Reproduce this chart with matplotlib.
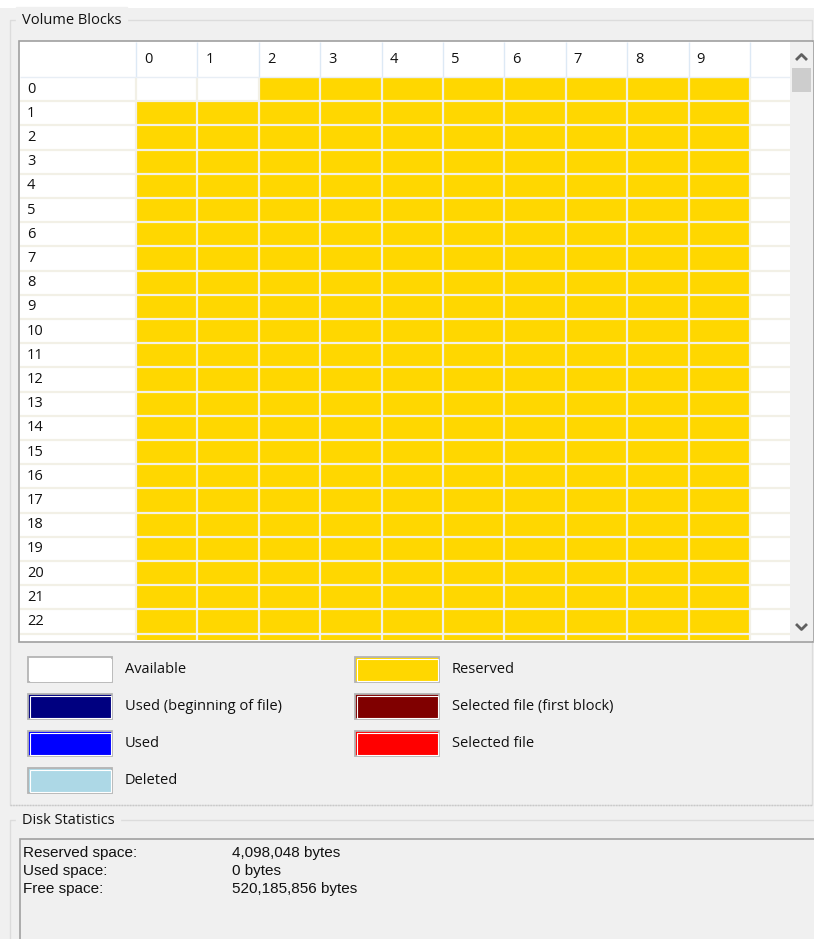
import numpy as np
import matplotlib
matplotlib.use('Agg')
import matplotlib.pyplot as plt
from matplotlib.colors import ListedColormap
from matplotlib.patches import Rectangle

# block map as it shows in the window, one string per row
# A = available, R = reserved
block_rows = [
  "AARRRRRRRR",
  "RRRRRRRRRR",
  "RRRRRRRRRR",
  "RRRRRRRRRR",
  "RRRRRRRRRR",
  "RRRRRRRRRR",
  "RRRRRRRRRR",
  "RRRRRRRRRR",
  "RRRRRRRRRR",
  "RRRRRRRRRR",
  "RRRRRRRRRR",
  "RRRRRRRRRR",
  "RRRRRRRRRR",
  "RRRRRRRRRR",
  "RRRRRRRRRR",
  "RRRRRRRRRR",
  "RRRRRRRRRR",
  "RRRRRRRRRR",
  "RRRRRRRRRR",
  "RRRRRRRRRR",
  "RRRRRRRRRR",
  "RRRRRRRRRR",
  "RRRRRRRRRR",
  "RRRRRRRRRR",
]
col_labels = ["0", "1", "2", "3", "4", "5", "6", "7", "8", "9"]
row_labels = ["0", "1", "2", "3", "4", "5", "6", "7", "8", "9", "10", "11",
              "12", "13", "14", "15", "16", "17", "18", "19", "20", "21", "22"]

status_codes  = ["A", "B", "U", "D", "R", "F", "S"]
legend_labels = ["Available", "Used (beginning of file)", "Used", "Deleted",
                 "Reserved", "Selected file (first block)", "Selected file"]
legend_colors = ["#ffffff", "#000080", "#0000ff", "#add8e6",
                 "#ffd700", "#800000", "#ff0000"]

stats_names  = ["Reserved space:", "Used space:", "Free space:"]
stats_values = ["4,098,048 bytes", "0 bytes", "520,185,856 bytes"]

W, H = 814, 939
UI_FONT = ['Open Sans', 'DejaVu Sans']
TXT_FONT = ['Liberation Sans', 'DejaVu Sans']
BG = '#f0f0f0'
TC = '#111111'
FS = 10.5

fig = plt.figure(figsize=(W/100., H/100.), dpi=100)
fig.patch.set_facecolor(BG)

###  window chrome in pixel coords  ###
ax = fig.add_axes([0, 0, 1, 1])
ax.set_xlim(0, W)
ax.set_ylim(H, 0)
ax.axis('off')

ax.add_patch(Rectangle((0, 0), W, 8, color='white', lw=0))

# Volume Blocks group box
ax.add_patch(Rectangle((10, 20), 802, 785, fill=False, ec='#dcdcdc', lw=1))
ax.plot([10, 812], [805, 805], color='#c8c8c8', lw=1, ls=(0, (1, 1)))
ax.text(22, 20, "Volume Blocks", family=UI_FONT, fontsize=FS, va='center',
        ha='left', color=TC, backgroundcolor=BG)

# grid control border + scrollbar
ax.add_patch(Rectangle((19, 41), 794, 601, fc='white', ec='#a0a0a0', lw=1.2))
ax.add_patch(Rectangle((790, 42), 23, 599, fc=BG, lw=0))
ax.add_patch(Rectangle((792, 68), 19, 24, fc='#cdcdcd', lw=0))
ax.plot([797, 801.5, 806], [59, 54.5, 59], color='#606060', lw=2)
ax.plot([797, 801.5, 806], [625, 629.5, 625], color='#606060', lw=2)

###  legend  ###
for i, (lab, col) in enumerate(zip(legend_labels, legend_colors)):
  c = i // 4
  r = i % 4
  x0 = 28 + c*327
  y0 = 657 + r*37
  ax.add_patch(Rectangle((x0, y0), 84, 25, fc=col, ec='#b4b4b4', lw=1.3))
  ax.add_patch(Rectangle((x0+1.5, y0+1.5), 81, 22, fill=False, ec='white', lw=0.8))
  ax.text(x0 + 97, y0 + 12.5, lab, family=UI_FONT, fontsize=FS,
          va='center', ha='left', color=TC)

###  Disk Statistics group  ###
ax.plot([10, 10, W], [H, 820, 820], color='#dcdcdc', lw=1)
ax.text(22, 820, "Disk Statistics", family=UI_FONT, fontsize=FS, va='center',
        ha='left', color=TC, backgroundcolor=BG)
ax.add_patch(Rectangle((20, 839), 795, 110, fc=BG, ec='#a0a0a0', lw=1.2))
for i, (n, v) in enumerate(zip(stats_names, stats_values)):
  ax.text(23, 853 + i*18, n, family=TXT_FONT, fontsize=11, va='center', color=TC)
  ax.text(232, 853 + i*18, v, family=TXT_FONT, fontsize=11, va='center', color=TC)

###  block grid  ###
rowH, colW = 24.2, 61.4
gx0, gx1, gy0, gy1 = 20, 790, 42, 640
hdr = 35/rowH
gax = fig.add_axes([gx0/W, 1 - gy1/H, (gx1-gx0)/W, (gy1-gy0)/H])
gax.set_xlim((gx0-136)/colW, (gx1-136)/colW)
gax.set_ylim((gy1-77)/rowH, -hdr)
gax.axis('off')
gax.set_facecolor('white')
gax.patch.set_visible(True)

grid = np.array([[status_codes.index(ch) for ch in row] for row in block_rows])
cmap = ListedColormap(legend_colors)
nR, nC = grid.shape
gax.imshow(grid, cmap=cmap, vmin=-0.5, vmax=len(legend_colors)-0.5,
           extent=(0, nC, nR, 0), aspect='auto', interpolation='nearest')

xl = gax.get_xlim()
gax.hlines(np.arange(1, nR), xl[0], xl[1], color='#f2f0e6', lw=1.6)
gax.vlines(np.arange(0, nC+1), 0, nR, color='#f2f0e6', lw=1.6)
gax.vlines(np.arange(0, nC+1), -hdr, 0, color='#dde9f5', lw=1)
gax.hlines(0, xl[0], xl[1], color='#e8eef5', lw=1)

for j, lab in enumerate(col_labels):
  gax.text(j + 0.13, -hdr/2, lab, family=UI_FONT, fontsize=FS,
           va='center', ha='left', color=TC)
for i, lab in enumerate(row_labels):
  gax.text((27-136)/colW, i + 0.5, lab, family=UI_FONT, fontsize=FS,
           va='center', ha='left', color=TC)

fig.savefig('out.png', dpi=100, facecolor=BG)
